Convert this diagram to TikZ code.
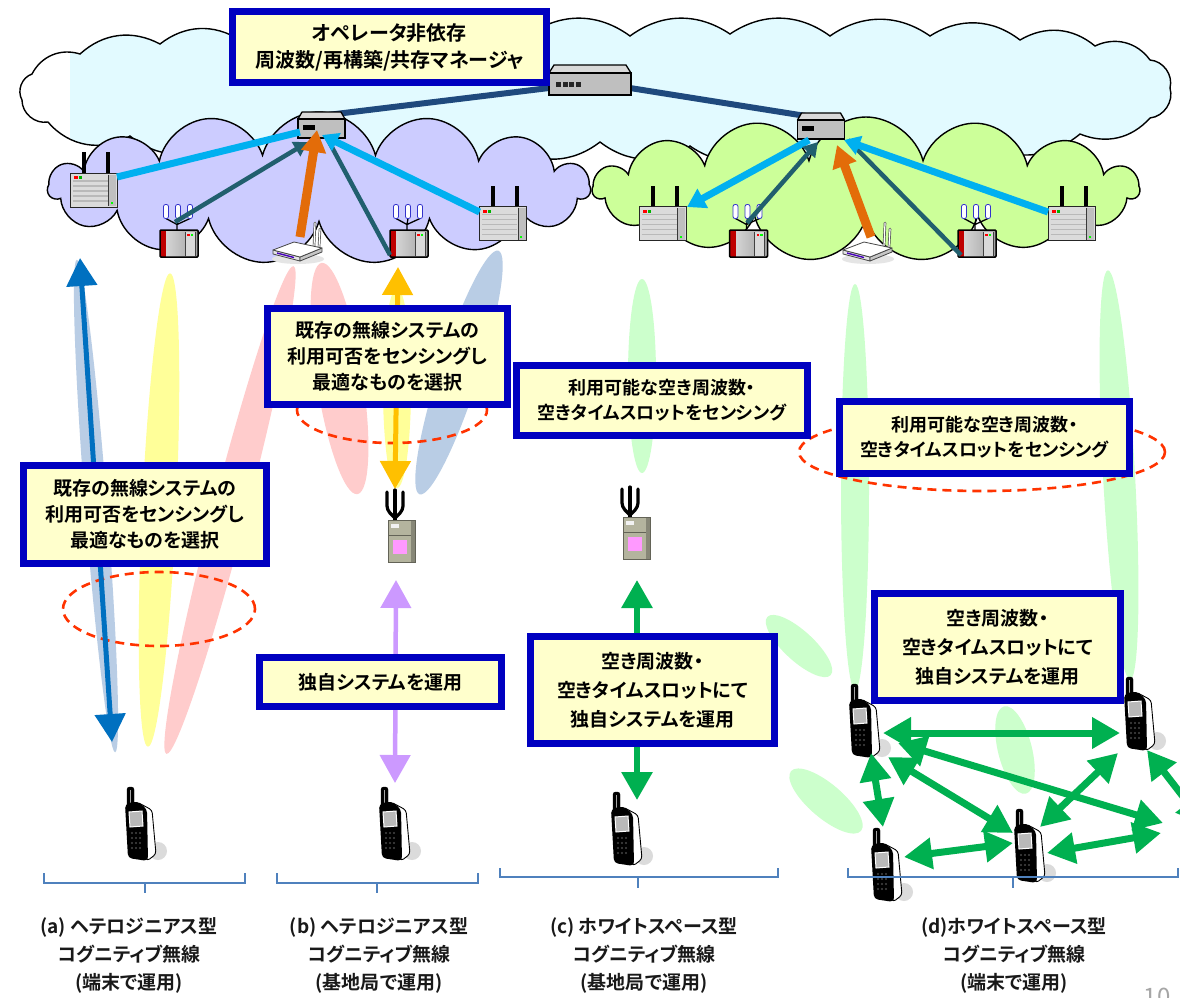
\documentclass[tikz,border=0pt]{standalone}
\usepackage{fontspec}
\setmainfont{Noto Sans CJK JP}[BoldFont={Noto Sans CJK JP Bold},RawFeature=+palt]
\usetikzlibrary{shapes.symbols,arrows.meta}

\definecolor{boxblue}{HTML}{0000C0}
\definecolor{boxfill}{HTML}{FFFFCC}
\definecolor{skyfill}{HTML}{E2FAFF}
\definecolor{lavfill}{HTML}{CCCCFF}
\definecolor{leaffill}{HTML}{CCFF99}
\definecolor{linkcyan}{HTML}{00B0F0}
\definecolor{linkteal}{HTML}{215F6E}
\definecolor{linkorange}{HTML}{E36C09}
\definecolor{linknavy}{HTML}{1F497D}
\definecolor{beamblue}{HTML}{B9CDE5}
\definecolor{beamyellow}{HTML}{FFFF99}
\definecolor{beampink}{HTML}{FFCCCC}
\definecolor{beamgreen}{HTML}{CCFFCC}
\definecolor{senseRed}{HTML}{FF3300}
\definecolor{arrblue}{HTML}{0070C0}
\definecolor{arryellow}{HTML}{FFC000}
\definecolor{arrpurple}{HTML}{CC99FF}
\definecolor{arrgreen}{HTML}{00B050}
\definecolor{bracecol}{HTML}{4F81BD}
\definecolor{cabinet}{HTML}{B4B49E}
\definecolor{pinkpanel}{HTML}{FF99FF}

\tikzset{
  devbox/.style 2 args={minimum width=#1, minimum height=#2, inner sep=0pt, outer sep=0pt},
  msgbox/.style={draw=boxblue, line width=7pt, fill=boxfill, align=center, inner sep=0pt,
    text=black, font=\bfseries\fontsize{19pt}{26pt}\selectfont},
  caption/.style={align=center, inner sep=0pt, text=black!90,
    font=\bfseries\fontsize{19pt}{28pt}\selectfont},
  bubble/.style={cloud, cloud ignores aspect, draw=black, line width=1.4pt},
  sense/.style={draw=senseRed, line width=2.6pt, dash pattern=on 9pt off 6pt},
  brace/.style={draw=bracecol, line width=1.6pt},
  headS/.style={-{Triangle[length=14pt,width=16pt]}},
  headM/.style={-{Triangle[length=22pt,width=24pt]}},
  twoway/.style={line width=#1, {Triangle[length=28pt,width=30pt]}-{Triangle[length=28pt,width=30pt]}},
  % grey base station with two antennas
  server/.pic={
    \fill[black] (-12,-38) rectangle (-8,-17);
    \fill[black] (12,-38) rectangle (16,-17);
    \filldraw[fill=gray!28, draw=gray!30!black, line width=1pt] (-23.5,-17) rectangle (23.5,17);
    \fill[gray!50] (15,-15.5) rectangle (22.5,16);
    \draw[gray!45!black, line width=.6pt] (15,-15.5) -- (15,16);
    \foreach \yy in {-9,-4,1,6,11} \draw[gray!55, line width=1.4pt] (-21,\yy) -- (14,\yy);
    \fill[red] (-20,-14) rectangle (-16,-11);
    \fill[green!70!black] (-15,-14) rectangle (-12,-11);
    \fill[green] (17,12) rectangle (19,14);
  },
  % rack unit with red side panel and three antennas
  rack/.pic={
    \draw[black, line width=1.3pt] (-2,-13) -- (-2,-19) (-13,-25) -- (-2,-19) -- (11,-25) (-1,-25) -- (-2,-19);
    \foreach \xx in {-13,-1,11}
      \filldraw[fill=white, draw=gray!40!blue, line width=.8pt, rounded corners=2pt] ({\xx-2.5},-39) rectangle ({\xx+2.5},-25);
    \shade[left color=gray!25, right color=gray!75] (-19,-13.5) rectangle (19,13.5);
    \fill[red!75!black] (-19,-13.5) rectangle (-13,13.5);
    \fill[gray!30] (6,-12) rectangle (16,12);
    \draw[gray!50!black, line width=.6pt] (6,-12) -- (6,12) (16,-12) -- (16,12);
    \fill[red] (8,-10) rectangle (10.5,-8);
    \fill[green] (11.5,-10) rectangle (14,-8);
    \draw[black, line width=1.5pt, rounded corners=1pt] (-19,-13.5) rectangle (19,13.5);
  },
  % flat wireless router
  router/.pic={
    \fill[gray!20] (0,11) ellipse [x radius=26pt, y radius=5pt];
    \draw[gray!60!black, line width=2.6pt, line cap=round] (16,-2) -- (17,-25);
    \draw[white, line width=1.2pt, line cap=round] (16,-2) -- (17,-25);
    \draw[gray!60!black, line width=2.6pt, line cap=round] (21,-1) -- (22,-19);
    \draw[white, line width=1.2pt, line cap=round] (21,-1) -- (22,-19);
    \filldraw[fill=gray!20, draw=gray!55!black, line width=.8pt, line join=round] (-25,2) -- (2,9) -- (2,13) -- (-25,6) -- cycle;
    \filldraw[fill=gray!45, draw=gray!55!black, line width=.8pt, line join=round] (2,9) -- (24,0) -- (24,4) -- (2,13) -- cycle;
    \filldraw[fill=white, draw=gray!55!black, line width=.8pt, line join=round] (-25,2) -- (-4,-6) -- (24,0) -- (2,9) -- cycle;
    \draw[blue!45!violet, line width=1.4pt] (-21,5) -- (-4,9.5);
  },
  smallswitch/.pic={
    \filldraw[fill=gray!30, draw=black, line width=1.3pt, line join=round] (-23.5,-6) -- (-19.5,-13) -- (19.5,-13) -- (23.5,-6) -- cycle;
    \filldraw[fill=gray!50, draw=black, line width=1.3pt] (-23.5,-6) rectangle (23.5,13);
    \fill[black] (-19,0) rectangle (-7,5);
  },
  bigswitch/.pic={
    \filldraw[fill=gray!30, draw=black, line width=1.3pt, line join=round] (-41,-7) -- (-36,-15) -- (36,-15) -- (41,-7) -- cycle;
    \filldraw[fill=gray!50, draw=black, line width=1.3pt] (-41,-7) rectangle (41,15);
    \foreach \xx in {-34,-27.5,-21,-14.5} \fill[black!85] (\xx,2) rectangle ({\xx+5},7);
  },
  % cabinet with trident antenna
  pole/.pic={
    \draw[black, line width=3.2pt, line cap=round, rounded corners=4pt] (-8,-35) -- (-8,-17) -- (0,-9);
    \draw[black, line width=3.2pt, line cap=round, rounded corners=4pt] (8,-35) -- (8,-17) -- (0,-9);
    \draw[black, line width=3.2pt, line cap=round] (0,-37) -- (0,-5);
    \fill[cabinet] (-7,-7) rectangle (20,35);
    \fill[cabinet!75!black] (16,-7) rectangle (20,35);
    \draw[cabinet!55!black, line width=.8pt] (-7,-7) rectangle (20,35);
    \draw[cabinet!55!black, line width=.8pt] (-7,8) -- (16,8);
    \fill[gray!10] (-4,-3) rectangle (4,1);
    \fill[pinkpanel] (-2,13) rectangle (12,27);
  },
  % mobile handset
  phone/.pic={
    \fill[gray!28] (15,28) circle (9pt);
    \filldraw[fill=white, draw=black, line width=.9pt, rounded corners=3pt] (-6,-21) -- (9,-13) -- (13,31) -- (4,38) -- cycle;
    \filldraw[fill=black, draw=black, rounded corners=2.5pt] (-16,-36) rectangle (-9,-17);
    \draw[gray!70, line width=.8pt] (-12.5,-33) -- (-12.5,-20);
    \fill[black, rounded corners=4pt] (-18,-19) -- (-6,-22) -- (4,-14) -- (5,38) -- (-15,35) -- cycle;
    \filldraw[fill=gray!55, draw=white, line width=1pt] (-14,-11) -- (-1,-12) -- (0,3) -- (-13,4) -- cycle;
    \foreach \xx in {-11,-7,-3} \foreach \yy in {10,15,20,25} \fill[gray!55!black] (\xx,\yy) circle (1.2pt);
  },
}

\begin{document}
\begin{tikzpicture}[x=1pt,y=-1pt]
\useasboundingbox (0,0) rectangle (1180,997);
\clip (0,0) rectangle (1180,997);
\fill[white] (0,0) rectangle (1180,997);

% ---------- backbone cloud (outline of puffs, tinted from the left lobes on) ----------
\draw[black, line width=1.4pt, fill=white,
  path picture={\fill[skyfill] ([xshift=53pt]path picture bounding box.south west) rectangle (path picture bounding box.north east);}]
  (48,122) to[bend left=50] (22,100) to[bend left=50] (32,74) to[bend left=40] (80,54)
  to[bend left=35] (160,44) to[bend left=35] (240,40) to[bend left=35] (330,36)
  to[bend left=35] (430,34) to[bend left=35] (530,34) to[bend left=35] (630,36)
  to[bend left=35] (730,34) to[bend left=35] (830,36) to[bend left=35] (930,36)
  to[bend left=35] (1020,40) to[bend left=35] (1095,46) to[bend left=40] (1150,60)
  to[bend left=50] (1170,88) to[bend left=50] (1150,118) to[bend left=35] (1080,134)
  to[bend left=35] (980,142) to[bend left=35] (880,146) to[bend left=35] (780,146)
  to[bend left=35] (690,146) to[bend left=35] (600,142) to[bend left=35] (510,146)
  to[bend left=35] (420,146) to[bend left=35] (320,144) to[bend left=35] (220,142)
  to[bend left=35] (130,136) to[bend left=40] (48,122) -- cycle;

% ---------- access clouds ----------
\node[bubble, cloud puffs=15, minimum width=542pt, minimum height=152pt, fill=lavfill] (cHet) at (319,188) {};
\node[bubble, cloud puffs=15, minimum width=546pt, minimum height=144pt, fill=leaffill] (cWs) at (866,189) {};

% ---------- core equipment ----------
\node[devbox={82pt}{30pt}] (swC) at (590,80) {};
\node[devbox={47pt}{26pt}] (swL) at (321.5,125) {};
\node[devbox={47pt}{26pt}] (swR) at (821,126) {};
\draw[linknavy, line width=6pt] ([shift={(-41,8)}]swC.center) -- ([shift={(6,-10)}]swL.center);
\draw[linknavy, line width=6pt] ([shift={(40,8)}]swC.center) -- ([shift={(10,-6)}]swR.center);
\pic at (swC.center) {bigswitch};
\pic at (swL.center) {smallswitch};
\pic at (swR.center) {smallswitch};

\node[msgbox, minimum width=314pt, minimum height=71pt, font=\bfseries\fontsize{20pt}{27pt}\selectfont]
  (mgr) at (389.5,47) {オペレータ非依存\\周波数/再構築/共存マネージャ};

% ---------- heterogeneous network devices ----------
\node[devbox={47pt}{34pt}] (bs1) at (93.5,190) {};
\node[devbox={38pt}{27pt}] (red1) at (179,243.5) {};
\node[devbox={50pt}{20pt}] (rt1) at (298,248) {};
\node[devbox={38pt}{27pt}] (red2) at (409,243.5) {};
\node[devbox={47pt}{34pt}] (bs2) at (503,223.5) {};
\pic at (bs1.center) {server};
\pic at (red1.center) {rack};
\pic at (rt1.center) {router};
\pic at (red2.center) {rack};
\pic at (bs2.center) {server};

% ---------- white-space network devices ----------
\node[devbox={47pt}{34pt}] (bs3) at (662.5,223.5) {};
\node[devbox={38pt}{27pt}] (red3) at (748.5,243.5) {};
\node[devbox={50pt}{20pt}] (rt2) at (868,248) {};
\node[devbox={38pt}{27pt}] (red4) at (977,243.5) {};
\node[devbox={47pt}{34pt}] (bs4) at (1071.5,223.5) {};
\pic at (bs3.center) {server};
\pic at (red3.center) {rack};
\pic at (rt2.center) {router};
\pic at (red4.center) {rack};
\pic at (bs4.center) {server};

% ---------- links inside the clouds ----------
\draw[linkcyan, line width=7pt] ([shift={(23.5,-13)}]bs1.center) -- ([shift={(-21.5,7)}]swL.center);
\draw[linkteal, line width=4.5pt, headS] ([shift={(-4,-21.5)}]red1.center) -- ([shift={(-13.5,17)}]swL.center);
\draw[linkteal, line width=4.5pt] ([shift={(-19,11.5)}]red2.center) -- ([shift={(5.5,13)}]swL.center);
\draw[linkcyan, line width=7pt, -{Triangle[length=16pt,width=19pt]}] ([shift={(-23.5,-11.5)}]bs2.center) -- ([shift={(0.5,10)}]swL.center);
\draw[linkorange, line width=9pt, headM] ([shift={(2,-11)}]rt1.center) -- ([shift={(-4.5,5)}]swL.center);

\draw[linkcyan, line width=7pt, -{Triangle[length=18pt,width=21pt]}] ([shift={(-12,14)}]swR.center) -- ([shift={(24.5,-16.5)}]bs3.center);
\draw[linkteal, line width=4.5pt, headS] ([shift={(-1.5,-20.5)}]red3.center) -- ([shift={(-3,16)}]swR.center);
\draw[linkteal, line width=4.5pt] ([shift={(-16,11.5)}]red4.center) -- ([shift={(27,14)}]swR.center);
\draw[linkcyan, line width=7pt, -{Triangle[length=16pt,width=19pt]}] ([shift={(-23.5,-11.5)}]bs4.center) -- ([shift={(23,14)}]swR.center);
\draw[linkorange, line width=9pt, headM] ([shift={(3,-11)}]rt2.center) -- ([shift={(16,19)}]swR.center);

% ---------- radio beams ----------
\fill[beamblue, rotate around={-85.55:(96,506)}] (96,506) ellipse [x radius=247pt, y radius=11pt];
\fill[beamyellow, rotate around={-92.68:(159,510)}] (159,510) ellipse [x radius=237pt, y radius=17pt];
\fill[beampink, rotate around={-104.6:(230,510)}] (230,510) ellipse [x radius=252pt, y radius=17pt];
\fill[beampink, rotate around={-81.2:(339.5,378.5)}] (339.5,378.5) ellipse [x radius=117pt, y radius=23pt];
\fill[beamblue, rotate around={-107.9:(459,372.5)}] (459,372.5) ellipse [x radius=128pt, y radius=20pt];
\fill[beamyellow] (397,388) ellipse [x radius=14pt, y radius=100pt];
\fill[beamgreen] (642,376) ellipse [x radius=14pt, y radius=97pt];
\fill[beamgreen] (855,487) ellipse [x radius=14pt, y radius=203pt];
\fill[beamgreen, rotate around={-86.9:(1119,475)}] (1119,475) ellipse [x radius=205pt, y radius=16pt];
\fill[beamgreen, rotate around={-42.6:(799,646)}] (799,646) ellipse [x radius=43pt, y radius=15pt];
\fill[beamgreen, rotate around={-40.5:(826,801)}] (826,801) ellipse [x radius=46pt, y radius=17pt];
\fill[beamgreen, rotate around={-76:(1015,750)}] (1015,750) ellipse [x radius=45pt, y radius=17pt];

% ---------- sensing areas ----------
\draw[sense] (159,609) ellipse [x radius=96pt, y radius=37pt];
\draw[sense] (392,410) ellipse [x radius=95pt, y radius=33pt];
\draw[sense] (982,452) ellipse [x radius=183pt, y radius=39pt];

% ---------- terminals and field stations ----------
\node[devbox={30pt}{76pt}] (pb) at (395,527) {};
\node[devbox={30pt}{76pt}] (pc) at (630,524) {};
\node[devbox={34pt}{76pt}] (pPa) at (143,823) {};
\node[devbox={34pt}{76pt}] (pPb) at (397,823) {};
\node[devbox={34pt}{76pt}] (pPc) at (629,828) {};
\node[devbox={34pt}{76pt}] (pd1) at (867,720) {};
\node[devbox={34pt}{76pt}] (pd2) at (1142,713) {};
\node[devbox={34pt}{76pt}] (pd3) at (889,864) {};
\node[devbox={34pt}{76pt}] (pd4) at (1032,845) {};

\coordinate (aTop) at (80,258);
\coordinate (aBot) at (112,742);
\coordinate (bTop) at (398,267);
\coordinate (dR1) at (1163,823);
\coordinate (dR2) at (1161,833);
\coordinate (dR3) at (1205,825);

% ---------- vertical links ----------
\draw[arrblue, twoway=5pt] (aTop) -- (aBot);
\draw[arryellow, twoway=5pt] (bTop) -- (pb.north);
\draw[arrpurple, twoway=4.5pt] ([shift={(1,15)}]pb.south) -- ([shift={(-2,-2)}]pPb.north);
\draw[arrgreen, twoway=6pt] ([shift={(7,18)}]pc.south) -- ([shift={(8,10)}]pPc.north);

% ---------- message boxes ----------
\node[msgbox, minimum width=243pt, minimum height=98pt] (txA) at (145,514.5)
  {既存の無線システムの\\利用可否をセンシングし\\最適なものを選択};
\node[msgbox, minimum width=240pt, minimum height=96pt] (txB1) at (387.5,356.5)
  {既存の無線システムの\\利用可否をセンシングし\\最適なものを選択};
\node[msgbox, minimum width=242pt, minimum height=49pt] (txB2) at (380.5,682) {独自システムを運用};
\node[msgbox, minimum width=291pt, minimum height=70pt, font=\bfseries\fontsize{18pt}{25pt}\selectfont]
  (txC1) at (662,400.5) {利用可能な空き周波数・\\空きタイムスロットをセンシング};
\node[msgbox, minimum width=244pt, minimum height=107pt, font=\bfseries\fontsize{19pt}{29pt}\selectfont]
  (txC2) at (652.5,690) {空き周波数・\\空きタイムスロットにて\\独自システムを運用};
\node[msgbox, minimum width=290pt, minimum height=72pt, font=\bfseries\fontsize{18pt}{25pt}\selectfont]
  (txD1) at (984.5,437.5) {利用可能な空き周波数・\\空きタイムスロットをセンシング};
\node[msgbox, minimum width=246pt, minimum height=107pt, font=\bfseries\fontsize{19pt}{29pt}\selectfont]
  (txD2) at (997.5,647) {空き周波数・\\空きタイムスロットにて\\独自システムを運用};

% ---------- icons ----------
\pic at (pb.center) {pole};
\pic at (pc.center) {pole};
\foreach \p in {pPa,pPb,pPc,pd1,pd2,pd3,pd4} \pic at (\p.center) {phone};

% ---------- terminal-to-terminal links ----------
\begin{scope}[arrgreen]
\draw[twoway=7pt] ([shift={(16,13)}]pd1.center) -- ([shift={(-22,20)}]pd2.center);
\draw[twoway=7pt] ([shift={(4,33)}]pd1.center) -- ([shift={(-6,-37)}]pd3.center);
\draw[twoway=7pt] ([shift={(21,37)}]pd1.center) -- ([shift={(-19,-12)}]pd4.center);
\draw[twoway=7pt] ([shift={(31,23)}]pd1.center) -- (dR1);
\draw[twoway=7pt] ([shift={(-24,40)}]pd2.center) -- ([shift={(8,-18)}]pd4.center);
\draw[twoway=7pt] ([shift={(15,-7)}]pd3.center) -- ([shift={(-19,-2)}]pd4.center);
\draw[twoway=7pt] ([shift={(15,8)}]pd4.center) -- (dR2);
\draw[twoway=7pt] ([shift={(5,37)}]pd2.center) -- (dR3);
\end{scope}

% ---------- group brackets ----------
\draw[brace] (44,873) |- (145,883) -- (145,893) (145,883) -| (245,873);
\draw[brace] (277,873) |- (377,883) -- (377,893) (377,883) -| (478,873);
\draw[brace] (500,868) |- (638,877) -- (638,888) (638,877) -| (778,868);
\draw[brace] (848,868) |- (1013,877) -- (1013,888) (1013,877) -| (1178,868);

% ---------- captions ----------
\node[caption] (capA) at (129,955) {(a) ヘテロジニアス型\\コグニティブ無線\\(端末で運用)};
\node[caption] (capB) at (379,955) {(b) ヘテロジニアス型\\コグニティブ無線\\(基地局で運用)};
\node[caption] (capC) at (644,955) {(c) ホワイトスペース型\\コグニティブ無線\\(基地局で運用)};
\node[caption] (capD) at (1014,955) {(d)ホワイトスペース型\\コグニティブ無線\\(端末で運用)};
\node[anchor=north, inner sep=0pt, text=gray!70, font=\fontsize{24pt}{24pt}\selectfont] (pageno) at (1157,988) {10};
\end{tikzpicture}
\end{document}
